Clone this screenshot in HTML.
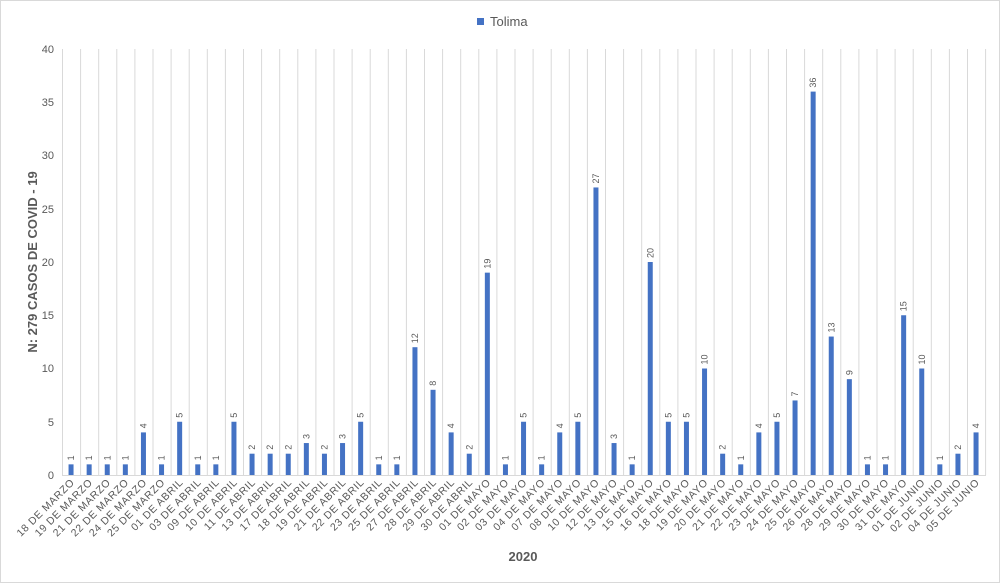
<!DOCTYPE html>
<html><head><meta charset="utf-8"><style>
body{margin:0;background:#fff}
svg{display:block;font-family:"Liberation Sans",Arial,sans-serif}
.v{font-size:9px;fill:#595959}
.c{font-size:10.5px;fill:#595959;text-anchor:end;letter-spacing:0.6px}
.t{font-size:11px;fill:#595959;text-anchor:end}
rect.b{fill:#4472c4}
</style></head><body>
<svg width="1000" height="583" viewBox="0 0 1000 583">
<rect x="0.5" y="0.5" width="999" height="582" fill="#fff" stroke="#d9d9d9"/>
<path stroke="#d9d9d9" stroke-width="1" fill="none" d="M62.5 49V475M80.6 49V475M98.7 49V475M116.8 49V475M134.9 49V475M153 49V475M171.1 49V475M189.2 49V475M207.3 49V475M225.4 49V475M243.5 49V475M261.6 49V475M279.7 49V475M297.8 49V475M315.9 49V475M334 49V475M352.1 49V475M370.2 49V475M388.3 49V475M406.4 49V475M424.5 49V475M442.6 49V475M460.7 49V475M478.8 49V475M496.9 49V475M515 49V475M533.1 49V475M551.2 49V475M569.3 49V475M587.4 49V475M605.5 49V475M623.6 49V475M641.7 49V475M659.8 49V475M677.9 49V475M696 49V475M714.1 49V475M732.2 49V475M750.3 49V475M768.4 49V475M786.5 49V475M804.6 49V475M822.7 49V475M840.8 49V475M858.9 49V475M877 49V475M895.1 49V475M913.2 49V475M931.3 49V475M949.4 49V475M967.5 49V475M985.6 49V475M62 475.5H986"/>
<g class="t">
<text x="54" y="479">0</text><text x="54" y="426">5</text><text x="54" y="372">10</text><text x="54" y="319">15</text><text x="54" y="266">20</text><text x="54" y="213">25</text><text x="54" y="159">30</text><text x="54" y="106">35</text><text x="54" y="53">40</text>
</g>
<text transform="translate(37,262) rotate(-90)" text-anchor="middle" font-size="13" font-weight="bold" fill="#595959">N: 279 CASOS DE COVID - 19</text>
<text x="523" y="561" text-anchor="middle" font-size="13" font-weight="bold" fill="#595959">2020</text>
<rect x="477" y="18" width="7" height="7" fill="#4472c4"/>
<text x="490" y="26" font-size="13" fill="#595959">Tolima</text>

<g transform="translate(71.05,475)"><rect class="b" x="-2.5" y="-10.65" width="5" height="10.65"/><text class="v" transform="translate(3,-14.65) rotate(-90)">1</text><text class="c" transform="translate(4,8) rotate(-45)">18 DE MARZO</text></g>
<g transform="translate(89.15,475)"><rect class="b" x="-2.5" y="-10.65" width="5" height="10.65"/><text class="v" transform="translate(3,-14.65) rotate(-90)">1</text><text class="c" transform="translate(4,8) rotate(-45)">19 DE MARZO</text></g>
<g transform="translate(107.25,475)"><rect class="b" x="-2.5" y="-10.65" width="5" height="10.65"/><text class="v" transform="translate(3,-14.65) rotate(-90)">1</text><text class="c" transform="translate(4,8) rotate(-45)">21 DE MARZO</text></g>
<g transform="translate(125.35,475)"><rect class="b" x="-2.5" y="-10.65" width="5" height="10.65"/><text class="v" transform="translate(3,-14.65) rotate(-90)">1</text><text class="c" transform="translate(4,8) rotate(-45)">22 DE MARZO</text></g>
<g transform="translate(143.45,475)"><rect class="b" x="-2.5" y="-42.6" width="5" height="42.6"/><text class="v" transform="translate(3,-46.6) rotate(-90)">4</text><text class="c" transform="translate(4,8) rotate(-45)">24 DE MARZO</text></g>
<g transform="translate(161.55,475)"><rect class="b" x="-2.5" y="-10.65" width="5" height="10.65"/><text class="v" transform="translate(3,-14.65) rotate(-90)">1</text><text class="c" transform="translate(4,8) rotate(-45)">25 DE MARZO</text></g>
<g transform="translate(179.65,475)"><rect class="b" x="-2.5" y="-53.25" width="5" height="53.25"/><text class="v" transform="translate(3,-57.25) rotate(-90)">5</text><text class="c" transform="translate(4,8) rotate(-45)">01 DE ABRIL</text></g>
<g transform="translate(197.75,475)"><rect class="b" x="-2.5" y="-10.65" width="5" height="10.65"/><text class="v" transform="translate(3,-14.65) rotate(-90)">1</text><text class="c" transform="translate(4,8) rotate(-45)">03 DE ABRIL</text></g>
<g transform="translate(215.85,475)"><rect class="b" x="-2.5" y="-10.65" width="5" height="10.65"/><text class="v" transform="translate(3,-14.65) rotate(-90)">1</text><text class="c" transform="translate(4,8) rotate(-45)">09 DE ABRIL</text></g>
<g transform="translate(233.95,475)"><rect class="b" x="-2.5" y="-53.25" width="5" height="53.25"/><text class="v" transform="translate(3,-57.25) rotate(-90)">5</text><text class="c" transform="translate(4,8) rotate(-45)">10 DE ABRIL</text></g>
<g transform="translate(252.05,475)"><rect class="b" x="-2.5" y="-21.3" width="5" height="21.3"/><text class="v" transform="translate(3,-25.3) rotate(-90)">2</text><text class="c" transform="translate(4,8) rotate(-45)">11 DE ABRIL</text></g>
<g transform="translate(270.15,475)"><rect class="b" x="-2.5" y="-21.3" width="5" height="21.3"/><text class="v" transform="translate(3,-25.3) rotate(-90)">2</text><text class="c" transform="translate(4,8) rotate(-45)">13 DE ABRIL</text></g>
<g transform="translate(288.25,475)"><rect class="b" x="-2.5" y="-21.3" width="5" height="21.3"/><text class="v" transform="translate(3,-25.3) rotate(-90)">2</text><text class="c" transform="translate(4,8) rotate(-45)">17 DE ABRIL</text></g>
<g transform="translate(306.35,475)"><rect class="b" x="-2.5" y="-31.95" width="5" height="31.95"/><text class="v" transform="translate(3,-35.95) rotate(-90)">3</text><text class="c" transform="translate(4,8) rotate(-45)">18 DE ABRIL</text></g>
<g transform="translate(324.45,475)"><rect class="b" x="-2.5" y="-21.3" width="5" height="21.3"/><text class="v" transform="translate(3,-25.3) rotate(-90)">2</text><text class="c" transform="translate(4,8) rotate(-45)">19 DE ABRIL</text></g>
<g transform="translate(342.55,475)"><rect class="b" x="-2.5" y="-31.95" width="5" height="31.95"/><text class="v" transform="translate(3,-35.95) rotate(-90)">3</text><text class="c" transform="translate(4,8) rotate(-45)">21 DE ABRIL</text></g>
<g transform="translate(360.65,475)"><rect class="b" x="-2.5" y="-53.25" width="5" height="53.25"/><text class="v" transform="translate(3,-57.25) rotate(-90)">5</text><text class="c" transform="translate(4,8) rotate(-45)">22 DE ABRIL</text></g>
<g transform="translate(378.75,475)"><rect class="b" x="-2.5" y="-10.65" width="5" height="10.65"/><text class="v" transform="translate(3,-14.65) rotate(-90)">1</text><text class="c" transform="translate(4,8) rotate(-45)">23 DE ABRIL</text></g>
<g transform="translate(396.85,475)"><rect class="b" x="-2.5" y="-10.65" width="5" height="10.65"/><text class="v" transform="translate(3,-14.65) rotate(-90)">1</text><text class="c" transform="translate(4,8) rotate(-45)">25 DE ABRIL</text></g>
<g transform="translate(414.95,475)"><rect class="b" x="-2.5" y="-127.8" width="5" height="127.8"/><text class="v" transform="translate(3,-131.8) rotate(-90)">12</text><text class="c" transform="translate(4,8) rotate(-45)">27 DE ABRIL</text></g>
<g transform="translate(433.05,475)"><rect class="b" x="-2.5" y="-85.2" width="5" height="85.2"/><text class="v" transform="translate(3,-89.2) rotate(-90)">8</text><text class="c" transform="translate(4,8) rotate(-45)">28 DE ABRIL</text></g>
<g transform="translate(451.15,475)"><rect class="b" x="-2.5" y="-42.6" width="5" height="42.6"/><text class="v" transform="translate(3,-46.6) rotate(-90)">4</text><text class="c" transform="translate(4,8) rotate(-45)">29 DE ABRIL</text></g>
<g transform="translate(469.25,475)"><rect class="b" x="-2.5" y="-21.3" width="5" height="21.3"/><text class="v" transform="translate(3,-25.3) rotate(-90)">2</text><text class="c" transform="translate(4,8) rotate(-45)">30 DE ABRIL</text></g>
<g transform="translate(487.35,475)"><rect class="b" x="-2.5" y="-202.35" width="5" height="202.35"/><text class="v" transform="translate(3,-206.35) rotate(-90)">19</text><text class="c" transform="translate(4,8) rotate(-45)">01 DE MAYO</text></g>
<g transform="translate(505.45,475)"><rect class="b" x="-2.5" y="-10.65" width="5" height="10.65"/><text class="v" transform="translate(3,-14.65) rotate(-90)">1</text><text class="c" transform="translate(4,8) rotate(-45)">02 DE MAYO</text></g>
<g transform="translate(523.55,475)"><rect class="b" x="-2.5" y="-53.25" width="5" height="53.25"/><text class="v" transform="translate(3,-57.25) rotate(-90)">5</text><text class="c" transform="translate(4,8) rotate(-45)">03 DE MAYO</text></g>
<g transform="translate(541.65,475)"><rect class="b" x="-2.5" y="-10.65" width="5" height="10.65"/><text class="v" transform="translate(3,-14.65) rotate(-90)">1</text><text class="c" transform="translate(4,8) rotate(-45)">04 DE MAYO</text></g>
<g transform="translate(559.75,475)"><rect class="b" x="-2.5" y="-42.6" width="5" height="42.6"/><text class="v" transform="translate(3,-46.6) rotate(-90)">4</text><text class="c" transform="translate(4,8) rotate(-45)">07 DE MAYO</text></g>
<g transform="translate(577.85,475)"><rect class="b" x="-2.5" y="-53.25" width="5" height="53.25"/><text class="v" transform="translate(3,-57.25) rotate(-90)">5</text><text class="c" transform="translate(4,8) rotate(-45)">08 DE MAYO</text></g>
<g transform="translate(595.95,475)"><rect class="b" x="-2.5" y="-287.55" width="5" height="287.55"/><text class="v" transform="translate(3,-291.55) rotate(-90)">27</text><text class="c" transform="translate(4,8) rotate(-45)">10 DE MAYO</text></g>
<g transform="translate(614.05,475)"><rect class="b" x="-2.5" y="-31.95" width="5" height="31.95"/><text class="v" transform="translate(3,-35.95) rotate(-90)">3</text><text class="c" transform="translate(4,8) rotate(-45)">12 DE MAYO</text></g>
<g transform="translate(632.15,475)"><rect class="b" x="-2.5" y="-10.65" width="5" height="10.65"/><text class="v" transform="translate(3,-14.65) rotate(-90)">1</text><text class="c" transform="translate(4,8) rotate(-45)">13 DE MAYO</text></g>
<g transform="translate(650.25,475)"><rect class="b" x="-2.5" y="-213" width="5" height="213"/><text class="v" transform="translate(3,-217) rotate(-90)">20</text><text class="c" transform="translate(4,8) rotate(-45)">15 DE MAYO</text></g>
<g transform="translate(668.35,475)"><rect class="b" x="-2.5" y="-53.25" width="5" height="53.25"/><text class="v" transform="translate(3,-57.25) rotate(-90)">5</text><text class="c" transform="translate(4,8) rotate(-45)">16 DE MAYO</text></g>
<g transform="translate(686.45,475)"><rect class="b" x="-2.5" y="-53.25" width="5" height="53.25"/><text class="v" transform="translate(3,-57.25) rotate(-90)">5</text><text class="c" transform="translate(4,8) rotate(-45)">18 DE MAYO</text></g>
<g transform="translate(704.55,475)"><rect class="b" x="-2.5" y="-106.5" width="5" height="106.5"/><text class="v" transform="translate(3,-110.5) rotate(-90)">10</text><text class="c" transform="translate(4,8) rotate(-45)">19 DE MAYO</text></g>
<g transform="translate(722.65,475)"><rect class="b" x="-2.5" y="-21.3" width="5" height="21.3"/><text class="v" transform="translate(3,-25.3) rotate(-90)">2</text><text class="c" transform="translate(4,8) rotate(-45)">20 DE MAYO</text></g>
<g transform="translate(740.75,475)"><rect class="b" x="-2.5" y="-10.65" width="5" height="10.65"/><text class="v" transform="translate(3,-14.65) rotate(-90)">1</text><text class="c" transform="translate(4,8) rotate(-45)">21 DE MAYO</text></g>
<g transform="translate(758.85,475)"><rect class="b" x="-2.5" y="-42.6" width="5" height="42.6"/><text class="v" transform="translate(3,-46.6) rotate(-90)">4</text><text class="c" transform="translate(4,8) rotate(-45)">22 DE MAYO</text></g>
<g transform="translate(776.95,475)"><rect class="b" x="-2.5" y="-53.25" width="5" height="53.25"/><text class="v" transform="translate(3,-57.25) rotate(-90)">5</text><text class="c" transform="translate(4,8) rotate(-45)">23 DE MAYO</text></g>
<g transform="translate(795.05,475)"><rect class="b" x="-2.5" y="-74.55" width="5" height="74.55"/><text class="v" transform="translate(3,-78.55) rotate(-90)">7</text><text class="c" transform="translate(4,8) rotate(-45)">24 DE MAYO</text></g>
<g transform="translate(813.15,475)"><rect class="b" x="-2.5" y="-383.4" width="5" height="383.4"/><text class="v" transform="translate(3,-387.4) rotate(-90)">36</text><text class="c" transform="translate(4,8) rotate(-45)">25 DE MAYO</text></g>
<g transform="translate(831.25,475)"><rect class="b" x="-2.5" y="-138.45" width="5" height="138.45"/><text class="v" transform="translate(3,-142.45) rotate(-90)">13</text><text class="c" transform="translate(4,8) rotate(-45)">26 DE MAYO</text></g>
<g transform="translate(849.35,475)"><rect class="b" x="-2.5" y="-95.85" width="5" height="95.85"/><text class="v" transform="translate(3,-99.85) rotate(-90)">9</text><text class="c" transform="translate(4,8) rotate(-45)">28 DE MAYO</text></g>
<g transform="translate(867.45,475)"><rect class="b" x="-2.5" y="-10.65" width="5" height="10.65"/><text class="v" transform="translate(3,-14.65) rotate(-90)">1</text><text class="c" transform="translate(4,8) rotate(-45)">29 DE MAYO</text></g>
<g transform="translate(885.55,475)"><rect class="b" x="-2.5" y="-10.65" width="5" height="10.65"/><text class="v" transform="translate(3,-14.65) rotate(-90)">1</text><text class="c" transform="translate(4,8) rotate(-45)">30 DE MAYO</text></g>
<g transform="translate(903.65,475)"><rect class="b" x="-2.5" y="-159.75" width="5" height="159.75"/><text class="v" transform="translate(3,-163.75) rotate(-90)">15</text><text class="c" transform="translate(4,8) rotate(-45)">31 DE MAYO</text></g>
<g transform="translate(921.75,475)"><rect class="b" x="-2.5" y="-106.5" width="5" height="106.5"/><text class="v" transform="translate(3,-110.5) rotate(-90)">10</text><text class="c" transform="translate(4,8) rotate(-45)">01 DE JUNIO</text></g>
<g transform="translate(939.85,475)"><rect class="b" x="-2.5" y="-10.65" width="5" height="10.65"/><text class="v" transform="translate(3,-14.65) rotate(-90)">1</text><text class="c" transform="translate(4,8) rotate(-45)">02 DE JUNIO</text></g>
<g transform="translate(957.95,475)"><rect class="b" x="-2.5" y="-21.3" width="5" height="21.3"/><text class="v" transform="translate(3,-25.3) rotate(-90)">2</text><text class="c" transform="translate(4,8) rotate(-45)">04 DE JUNIO</text></g>
<g transform="translate(976.05,475)"><rect class="b" x="-2.5" y="-42.6" width="5" height="42.6"/><text class="v" transform="translate(3,-46.6) rotate(-90)">4</text><text class="c" transform="translate(4,8) rotate(-45)">05 DE JUNIO</text></g>
</svg>
</body></html>
